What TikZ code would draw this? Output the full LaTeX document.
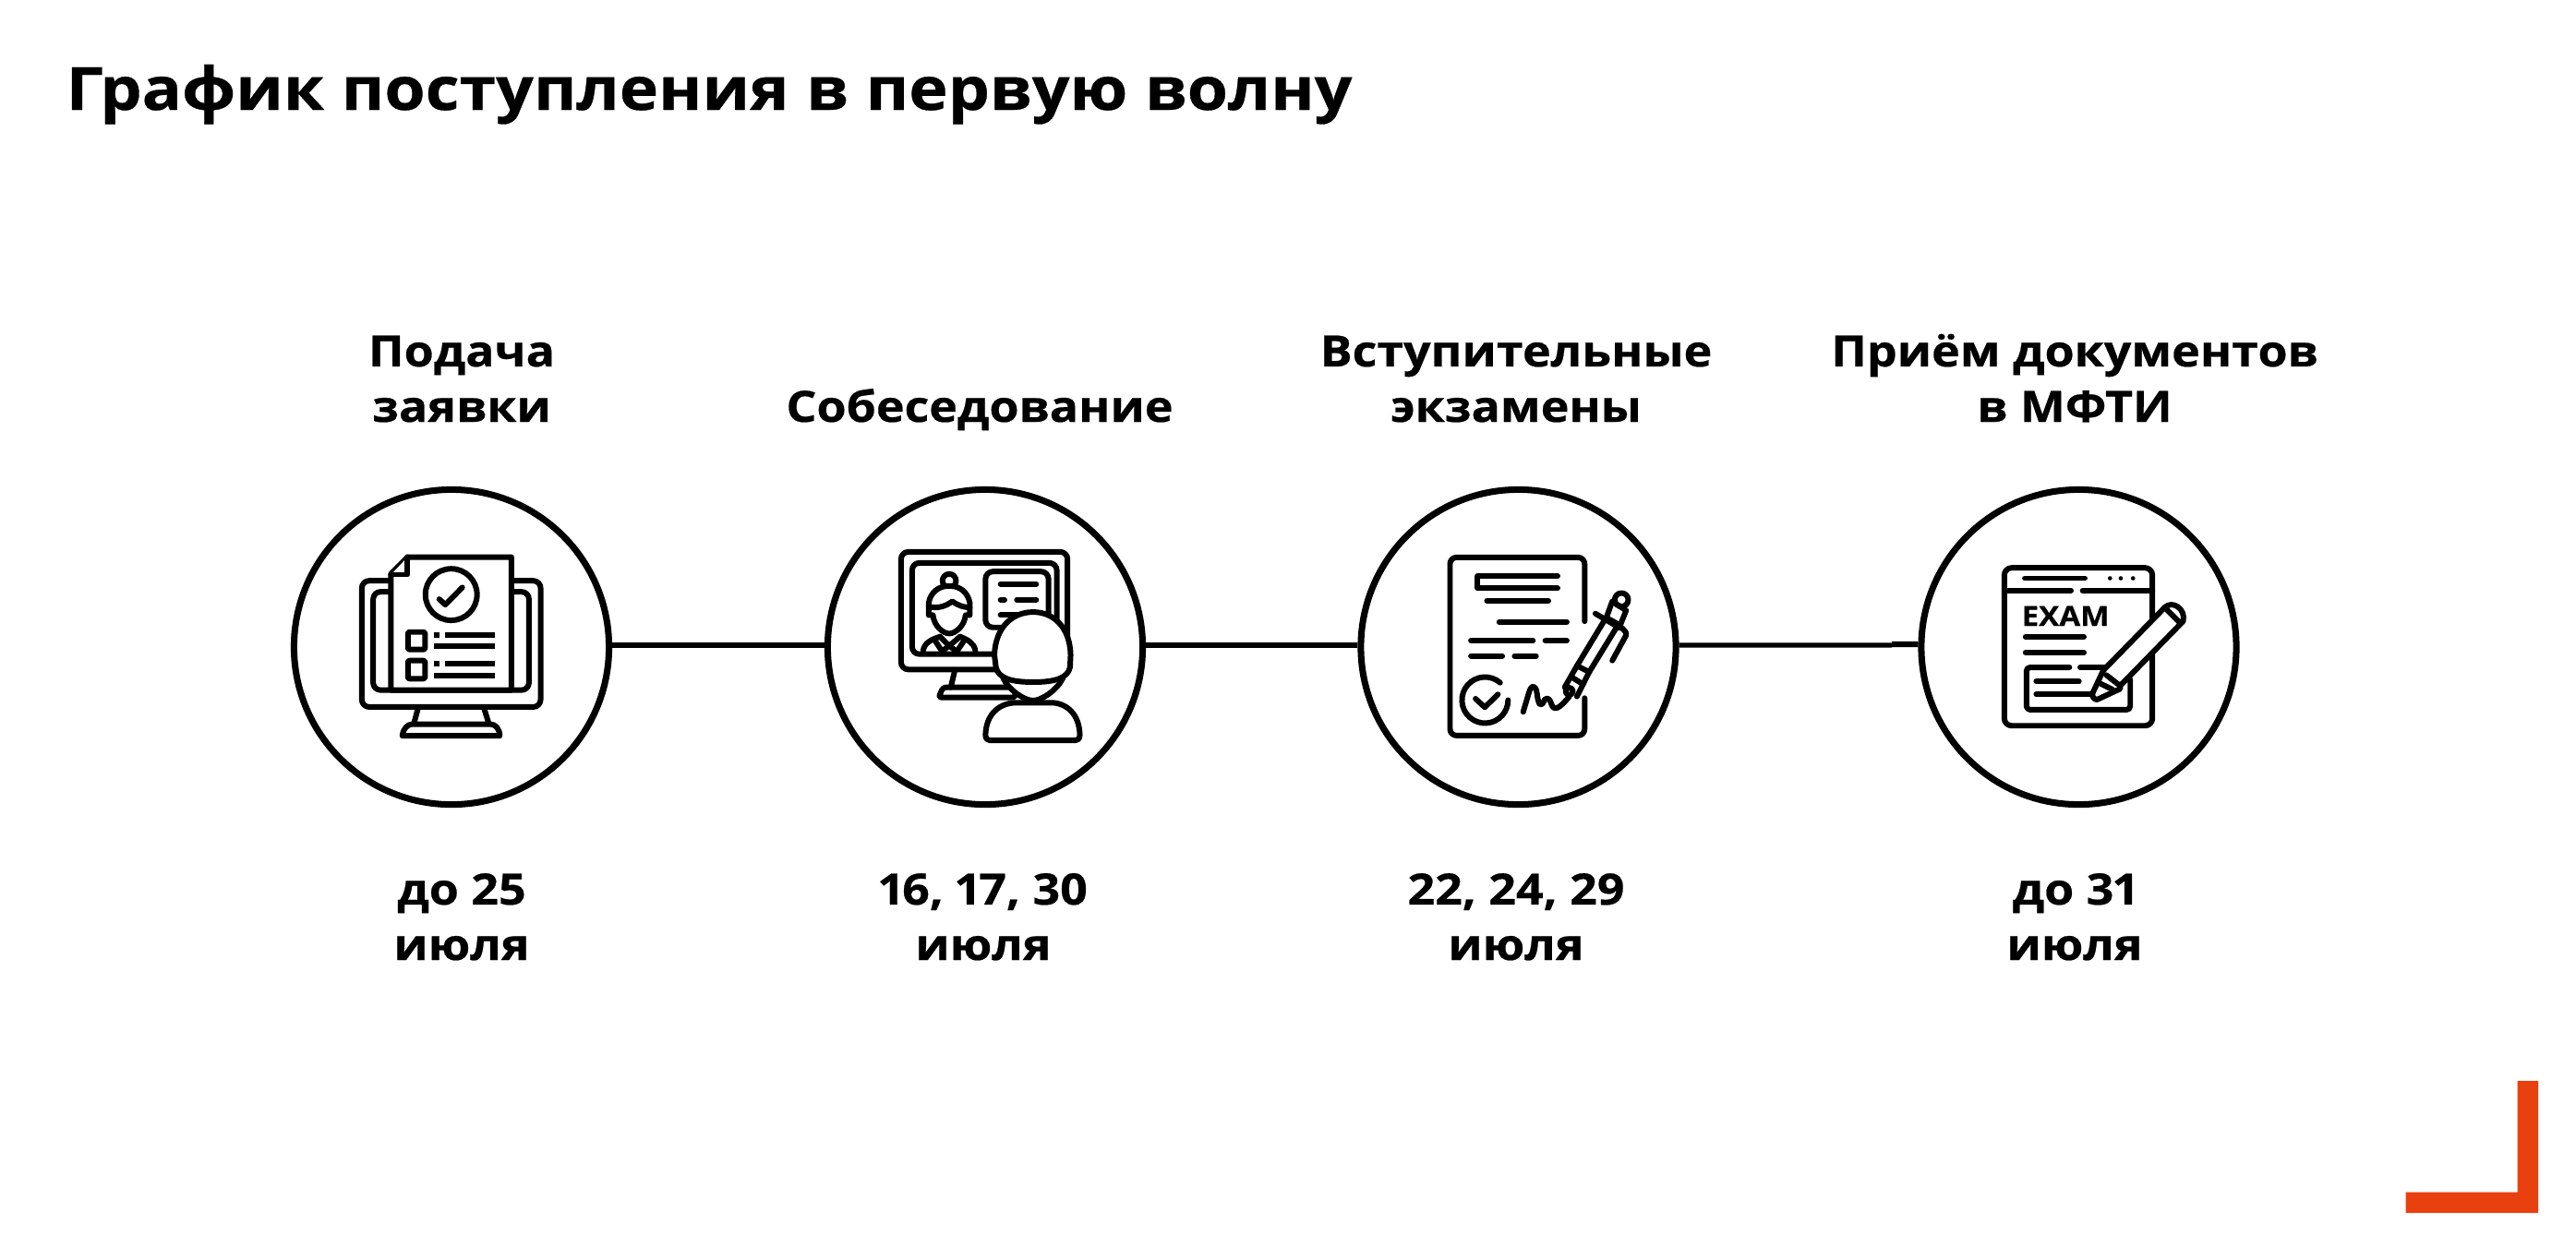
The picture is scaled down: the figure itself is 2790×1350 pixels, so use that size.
\documentclass[tikz,border=0pt]{standalone}
\usepackage{fontspec}
\setmainfont[FakeStretch=1.11,Numbers=Proportional,BoldFeatures={FakeBold=0.5}]{Open Sans}
\definecolor{cornerred}{HTML}{E8400F}
\begin{document}
\begin{tikzpicture}[x=0.01cm,y=-0.01cm,
    stage/.style={circle,draw,line width=2pt,fill=white,minimum size=3.41cm,inner sep=0pt},
    link/.style={line width=1.5pt},
    caption/.style={font=\fontsize{13.3pt}{17.07pt}\selectfont\bfseries,align=center,inner sep=0pt,anchor=base},
    icon/.style={x=0.00333cm,y=-0.00333cm,line width=1.7pt,line cap=round,line join=round},
    box/.style={draw,fill=white,rounded corners=0.8mm}]
\useasboundingbox (0,0) rectangle (2790,1350);
\node[font=\fontsize{18.35pt}{24pt}\selectfont\bfseries,inner sep=0pt,anchor=base west] (title) at (71,119) {График поступления в первую волну};
%the four stages, left to right
\node[stage] (podacha) at (489,701) {};
\node[stage] (sobes) at (1067,701) {};
\node[stage] (exams) at (1644.5,701) {};
\node[stage] (docs) at (2251.5,701) {};
\coordinate (join) at (2049,699);
\draw[link] ([yshift=0.57pt]podacha.east) -- ([yshift=0.57pt]sobes.west);
\draw[link] ([yshift=0.57pt]sobes.east) -- ([yshift=0.57pt]exams.west);
\draw[link] ([yshift=0.57pt]exams.east) -- (join);
\draw[link,line width=1.8pt] ([yshift=0.28pt]join) -- ([yshift=0.85pt]docs.west);
%labels above
\node[caption] (podachatop) at (500,457) {Подача\\заявки};
\node[caption] (sobestop) at (1061,457) {Собеседование};
\node[caption] (examstop) at (1642,457) {Вступительные\\экзамены};
\node[caption] (docstop) at (2247,457) {Приём документов\\в МФТИ};
%dates below
\node[caption] (podachadate) at (500,1040) {до 25\\июля};
\node[caption] (sobesdate) at (1065,1040) {16, 17, 30\\июля};
\node[caption] (examsdate) at (1642,1040) {22, 24, 29\\июля};
\node[caption] (docsdate) at (2247,1040) {до 31\\июля};
%first icon: form on a monitor
\begin{scope}[shift={(300,510)},icon]
\draw (458,777) -- (445,825) (675,777) -- (690,825);
\draw[fill=white] (408,863) .. controls (410,840) and (425,825) .. (440,825) -- (695,825) .. controls (710,825) and (725,840) .. (725,863) -- cycle;
\draw[box] (276,358) rectangle (858,769);
\draw[box] (313,394) rectangle (820,714);
\draw[fill=white] (371,714) -- (371,335) -- (425,281) -- (763,281) -- (763,714) -- cycle;
\draw[fill=white] (425,281) -- (425,338) -- (371,338);
\draw (567,403) circle (84);
\draw (528,418) -- (548,436) -- (603,380);
\draw[line cap=butt,rounded corners=0.2mm] (426,525) rectangle (482,582) (426,618) rectangle (482,677);
\draw[line cap=butt] (512,535) -- (528,535) (548,535) -- (708,535) (512,572) -- (708,572) (512,629) -- (528,629) (548,629) -- (708,629) (512,666) -- (708,666);
\end{scope}
%second icon: interview over a screen
\begin{scope}[shift={(880,510)},icon]
\draw (462,655) -- (450,705);
\draw[rounded corners=0.3mm] (410,738) -- (425,705) -- (660,705) -- (660,738) -- cycle;
\draw[box] (288,264) rectangle (830,647);
\draw[box] (324,300) rectangle (795,597);
\draw[box] (563,328) rectangle (768,510);
\draw (612,369) -- (728,369) (612,420) -- (625,420) (665,420) -- (728,420) (612,470) -- (700,470);
\draw (445,358) circle (22);
\draw[fill=white] (378,470) -- (378,430) .. controls (385,395) and (410,375) .. (445,375) .. controls (480,375) and (505,395) .. (512,430) -- (512,470) -- (498,470) .. controls (495,505) and (465,530) .. (445,530) .. controls (425,530) and (395,505) .. (392,470) -- cycle;
\draw (378,442) .. controls (410,450) and (435,440) .. (455,425) .. controls (475,440) and (495,445) .. (512,445);
\draw (360,585) .. controls (365,560) and (385,550) .. (415,540) (530,585) .. controls (525,560) and (505,550) .. (480,540);
\draw (400,555) -- (420,585) (492,555) -- (472,585) (415,540) -- (445,570) -- (480,540) (445,570) -- (425,585) (445,570) -- (465,585);
\draw[fill=white] (620,675) .. controls (640,715) and (690,748) .. (718,748) .. controls (745,748) and (795,715) .. (815,675) -- cycle;
\draw[fill=white] (563,860) .. controls (565,790) and (610,755) .. (665,755) -- (775,755) .. controls (825,755) and (868,790) .. (870,860) .. controls (870,872) and (864,878) .. (855,878) -- (578,878) .. controls (569,878) and (563,872) .. (563,860) -- cycle;
\draw[fill=white] (592,600) .. controls (595,510) and (650,460) .. (718,460) .. controls (785,460) and (838,510) .. (840,600) -- (838,640) .. controls (830,675) and (790,688) .. (718,688) .. controls (645,688) and (605,675) .. (597,640) -- cycle;
\end{scope}
%third icon: signed sheet with a pen
\begin{scope}[shift={(1460,510)},icon]
\draw[rounded corners=0.7mm] (770,490) -- (770,282) -- (332,282) -- (332,862) -- (770,862) -- (770,740);
\draw (682,343) -- (422,343) -- (422,383) -- (682,383);
\draw (452,423) -- (652,423) (492,492) -- (712,492) (400,553) -- (602,553) (642,553) -- (712,553) (400,603) -- (502,603) (542,603) -- (612,603);
\draw (495,690) arc (-49:-360:75);
\draw (415,742) -- (445,770) -- (488,728);
\draw (570,785) -- (588,725) .. controls (595,695) and (612,695) .. (615,725) .. controls (620,770) and (630,770) .. (640,745) .. controls (650,735) and (658,745) .. (662,760) .. controls (670,782) and (685,778) .. (720,735);
\draw[rounded corners=0.2mm] (745,735) -- (785,655) -- (880,500) -- (840,478) -- (745,635) -- (705,705);
\draw (745,635) -- (785,655) (728,672) -- (765,695);
\draw (720,718) circle (12);
\draw (805,465) -- (885,512);
\draw (840,480) -- (860,425) -- (905,455) -- (885,505);
\draw (890,420) circle (22);
\draw[rounded corners=0.2mm] (890,510) -- (908,530) -- (860,618);
\end{scope}
%fourth icon: exam page with a pencil
\begin{scope}[shift={(2040,510)},icon]
\draw[box] (393,316) rectangle (875,830);
\draw (393,390) -- (610,390) (648,390) -- (875,390);
\draw (460,350) -- (655,350);
\fill (737,350) circle (7) (772,350) circle (7) (812,350) circle (7);
\node[font=\fontsize{8.5pt}{9pt}\selectfont\bfseries,inner sep=0pt] (examword) at (592,473) {EXAM};
\draw (462,541) -- (652,541) (462,592) -- (652,592);
\draw[rounded corners=0.4mm] (605,640) -- (465,640) -- (465,778) -- (803,778) -- (803,680);
\draw (640,640) -- (720,640) (497,686) -- (636,686) (497,728) -- (680,728);
\draw[fill=white] (715,650) -- (915,445) .. controls (940,420) and (985,450) .. (975,490) -- (770,700) -- (770,710) -- (695,745) .. controls (685,745) and (678,735) .. (680,725) -- cycle;
\draw (725,665) -- (770,700) (915,445) -- (965,495) (700,690) -- (745,712);
\end{scope}
%corner mark
\fill[cornerred] (2605.7,1291.7) -- (2726.7,1291.7) -- (2726.7,1171) -- (2749,1171) -- (2749,1314) -- (2605.7,1314) -- cycle;
\end{tikzpicture}
\end{document}
